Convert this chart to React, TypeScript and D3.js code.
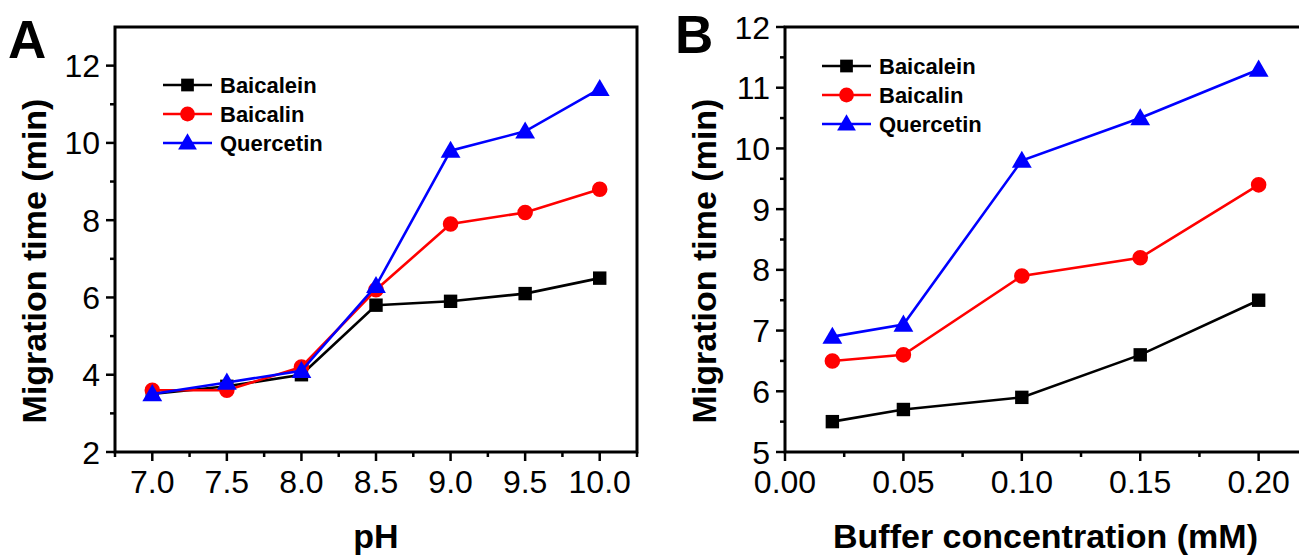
import React, { useRef, useEffect } from 'react';
import * as d3 from 'd3';

// panel A: pH
const phValues = [7.0, 7.5, 8.0, 8.5, 9.0, 9.5, 10.0];
const phBaicalein = [3.5, 3.7, 4.0, 5.8, 5.9, 6.1, 6.5];
const phBaicalin = [3.6, 3.6, 4.2, 6.2, 7.9, 8.2, 8.8];
const phQuercetin = [3.5, 3.8, 4.1, 6.3, 9.8, 10.3, 11.4];
const phTicks = [7.0, 7.5, 8.0, 8.5, 9.0, 9.5, 10.0];
const phYTicks = [2, 4, 6, 8, 10, 12];

// panel B: buffer concentration
const bufValues = [0.02, 0.05, 0.10, 0.15, 0.20];
const bufBaicalein = [5.5, 5.7, 5.9, 6.6, 7.5];
const bufBaicalin = [6.5, 6.6, 7.9, 8.2, 9.4];
const bufQuercetin = [6.9, 7.1, 9.8, 10.5, 11.3];
const bufTicks = [0.0, 0.05, 0.10, 0.15, 0.20];
const bufYTicks = [5, 6, 7, 8, 9, 10, 11, 12];

const seriesNames = ['Baicalein', 'Baicalin', 'Quercetin'];
const colors = ['#000000', '#ff0000', '#0000ff'];
const shapes = [d3.symbolSquare, d3.symbolCircle, d3.symbolTriangle];
const symbolSizes = [180, 190, 170];

const font = 'Arial, "Liberation Sans", sans-serif';

const App = () => {
    const ref = useRef<SVGSVGElement>(null);

    useEffect(() => {
        const svg = d3.select(ref.current);
        svg.selectAll('*').remove();

        const drawPanel = (opts: any) => {
            const { left, right, top, bottom, xDomain, yDomain, xVals, ys, xTicks, xMinor, yTicks, yMinor,
                xFmt, xTitle, label, labelX, labelY, legendX, legendY } = opts;

            const x = d3.scaleLinear().domain(xDomain).range([left, right]);
            const y = d3.scaleLinear().domain(yDomain).range([bottom, top]);
            const g = svg.append('g');

            // minor ticks
            g.selectAll('.xminor').data(xMinor).enter().append('line')
                .attr('x1', (d: number) => x(d)).attr('x2', (d: number) => x(d))
                .attr('y1', bottom).attr('y2', bottom + 5)
                .attr('stroke', '#000').attr('stroke-width', 2.5);
            g.selectAll('.yminor').data(yMinor).enter().append('line')
                .attr('x1', left).attr('x2', left - 5)
                .attr('y1', (d: number) => y(d)).attr('y2', (d: number) => y(d))
                .attr('stroke', '#000').attr('stroke-width', 2.5);

            // major ticks + labels
            g.selectAll('.xmaj').data(xTicks).enter().append('line')
                .attr('x1', (d: number) => x(d)).attr('x2', (d: number) => x(d))
                .attr('y1', bottom).attr('y2', bottom + 9)
                .attr('stroke', '#000').attr('stroke-width', 2.5);
            g.selectAll('.xlab').data(xTicks).enter().append('text')
                .attr('x', (d: number) => x(d)).attr('y', bottom + 41)
                .attr('text-anchor', 'middle')
                .style('font-family', font).style('font-size', '32px')
                .text((d: number) => xFmt(d));
            g.selectAll('.ymaj').data(yTicks).enter().append('line')
                .attr('x1', left).attr('x2', left - 9)
                .attr('y1', (d: number) => y(d)).attr('y2', (d: number) => y(d))
                .attr('stroke', '#000').attr('stroke-width', 2.5);
            g.selectAll('.ylab').data(yTicks).enter().append('text')
                .attr('x', left - 15).attr('y', (d: number) => y(d)).attr('dy', '0.36em')
                .attr('text-anchor', 'end')
                .style('font-family', font).style('font-size', '32px')
                .text((d: number) => d);

            // frame
            g.append('rect')
                .attr('x', left).attr('y', top)
                .attr('width', right - left).attr('height', bottom - top)
                .attr('fill', 'none').attr('stroke', '#000').attr('stroke-width', 3);

            // series, black first so blue sits on top
            const line = d3.line<number>()
                .x((_d, i) => x(xVals[i]))
                .y((d) => y(d));
            ys.forEach((vals: number[], k: number) => {
                g.append('path').datum(vals)
                    .attr('d', line)
                    .attr('fill', 'none').attr('stroke', colors[k]).attr('stroke-width', 2.6);
                g.selectAll('.m' + k).data(vals).enter().append('path')
                    .attr('d', d3.symbol().type(shapes[k]).size(symbolSizes[k]))
                    .attr('transform', (d: number, i: number) =>
                        `translate(${x(xVals[i])},${y(d) + (k === 2 ? 1.5 : 0)})`)
                    .attr('fill', colors[k]);
            });

            // legend
            seriesNames.forEach((name, k) => {
                const ly = legendY + k * 29;
                g.append('line')
                    .attr('x1', legendX).attr('x2', legendX + 49)
                    .attr('y1', ly).attr('y2', ly)
                    .attr('stroke', colors[k]).attr('stroke-width', 2.6);
                g.append('path')
                    .attr('d', d3.symbol().type(shapes[k]).size(symbolSizes[k] * 0.9))
                    .attr('transform', `translate(${legendX + 24.5},${ly + (k === 2 ? 1 : 0)})`)
                    .attr('fill', colors[k]);
                g.append('text')
                    .attr('x', legendX + 57).attr('y', ly).attr('dy', '0.36em')
                    .style('font-family', font).style('font-size', '22px').style('font-weight', 'bold')
                    .text(name);
            });

            // axis titles
            g.append('text')
                .attr('x', (left + right) / 2).attr('y', 548)
                .attr('text-anchor', 'middle')
                .style('font-family', font).style('font-size', '34px').style('font-weight', 'bold')
                .text(xTitle);
            g.append('text')
                .attr('transform', `translate(${left - 69},261) rotate(-90)`)
                .attr('text-anchor', 'middle')
                .style('font-family', font).style('font-size', '34px').style('font-weight', 'bold')
                .text('Migration time (min)');

            // panel letter
            g.append('text')
                .attr('x', labelX).attr('y', labelY)
                .style('font-family', font).style('font-size', '53px').style('font-weight', 'bold')
                .text(label);
        };

        drawPanel({
            left: 115, right: 637, top: 27, bottom: 452,
            xDomain: [6.75, 10.25], yDomain: [2, 13],
            xVals: phValues, ys: [phBaicalein, phBaicalin, phQuercetin],
            xTicks: phTicks, xMinor: [6.75, 7.25, 7.75, 8.25, 8.75, 9.25, 9.75, 10.25],
            yTicks: phYTicks, yMinor: [3, 5, 7, 9, 11],
            xFmt: d3.format('.1f'), xTitle: 'pH',
            label: 'A', labelX: 8, labelY: 58,
            legendX: 163, legendY: 85,
        });

        // right edge of panel B runs past the picture, as in the original
        drawPanel({
            left: 785, right: 1306, top: 27, bottom: 452,
            xDomain: [0, 0.22], yDomain: [5, 12],
            xVals: bufValues, ys: [bufBaicalein, bufBaicalin, bufQuercetin],
            xTicks: bufTicks, xMinor: [0.025, 0.075, 0.125, 0.175],
            yTicks: bufYTicks, yMinor: [5.5, 6.5, 7.5, 8.5, 9.5, 10.5, 11.5],
            xFmt: d3.format('.2f'), xTitle: 'Buffer concentration (mM)',
            label: 'B', labelX: 675, labelY: 53,
            legendX: 822, legendY: 66,
        });
    }, []);

    return (
        <div style={{ position: 'absolute', left: 0, top: 0 }}>
            <svg ref={ref} width={1299} height={555} style={{ display: 'block', background: '#fff' }} />
        </div>
    );
};

export default App;
